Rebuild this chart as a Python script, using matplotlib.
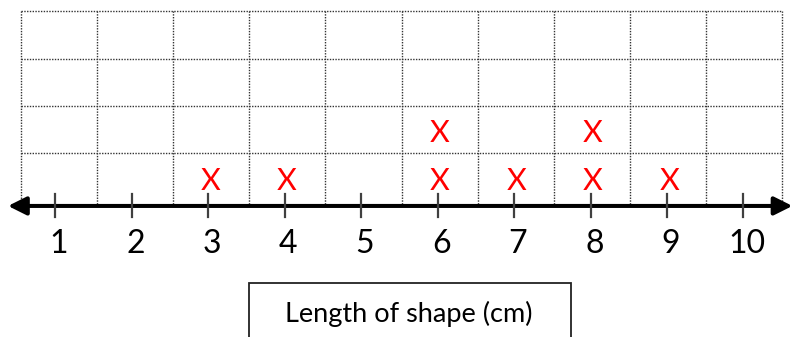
import numpy as np
import matplotlib
matplotlib.use("Agg")
import matplotlib.pyplot as plt
from matplotlib.patches import FancyArrowPatch, Rectangle

# ---- data ----
lengths = [1, 2, 3, 4, 5, 6, 7, 8, 9, 10]
tick_labels = ["1", "2", "3", "4", "5", "6", "7", "8", "9", "10"]
counts = [0, 0, 1, 1, 0, 2, 1, 2, 1, 0]
axis_title = "Length of shape (cm)"
mark_symbol = "X"

plt.rcParams['font.family'] = ['Lato', 'DejaVu Sans']

fig = plt.figure(figsize=(7.92, 3.37), dpi=100)
ax = fig.add_axes([0, 0, 1, 1])
ax.set_xlim(0.281, 10.634)
ax.set_ylim(-2.27, 4.75)
ax.axis('off')

# dotted grid
vx = np.linspace(0.556, 10.503, 11)
hy = [1.56, 2.54, 3.52, 4.52]
grid_kw = dict(color='#333333', lw=1.0, linestyle=(0, (1, 1)), zorder=1)
for x in vx:
    ax.plot([x, x], [0.5, 4.52], **grid_kw)
for y in hy:
    ax.plot([vx[0], vx[-1]], [y, y], **grid_kw)

# number line with arrows
axis_y = 0.46
arrow = FancyArrowPatch((0.386, axis_y), (10.64, axis_y),
                        arrowstyle='<|-|>,head_length=11,head_width=5.5',
                        mutation_scale=1, lw=2.9, color='black',
                        shrinkA=0, shrinkB=0, zorder=3)
ax.add_patch(arrow)

# ticks and labels
for x, lab in zip(lengths, tick_labels):
    ax.plot([x, x], [0.229, 0.708], color='#404040', lw=1.6, zorder=4)
    ax.text(x + 0.05, -0.52, lab, ha='center', va='baseline',
            fontsize=23, color='black')

# X marks
for x, c in zip(lengths, counts):
    for level in range(1, c + 1):
        ax.text(x + 0.03, level - 0.21, mark_symbol, ha='center', va='baseline',
                fontsize=22, color='#ff0000', zorder=5)

# title box
ax.add_patch(Rectangle((3.536, -2.5), 7.745 - 3.536, 2.5 - 1.146,
                       fill=False, edgecolor='#222222', lw=1.3, zorder=2))
ax.text(5.63, -1.96, axis_title, ha='center', va='baseline',
        fontsize=19.5, color='black')

fig.savefig('out.png', dpi=100)
